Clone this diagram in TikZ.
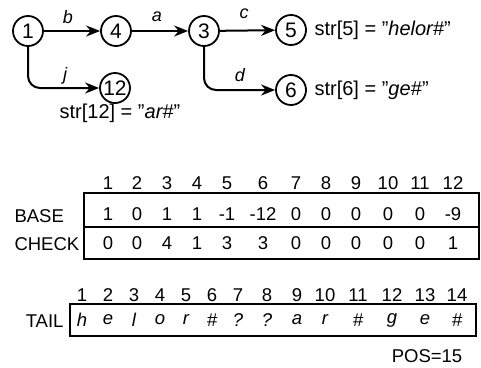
\documentclass[tikz,border=0pt]{standalone}
\usepackage{fontspec}
\setmainfont{Liberation Sans}
\usetikzlibrary{arrows.meta}
\newcommand{\dq}{\symbol{34}}
\begin{document}
\begin{tikzpicture}[x=1pt,y=-1pt,
  state/.style={circle,draw,line width=1.8pt,minimum size=30pt,inner sep=0pt,font=\fontsize{21}{23}\selectfont},
  edge/.style={line width=2pt,-{Stealth[length=14pt,width=11pt]},rounded corners=12pt},
  elabel/.style={font=\fontsize{18}{20}\selectfont\itshape},
  strlabel/.style={font=\fontsize{20}{22}\selectfont},
  tab/.style={font=\fontsize{18.5}{20}\selectfont},
  boxline/.style={line width=1.8pt}]
\useasboundingbox (0,0) rectangle (481,367);
% graph
\node[state] (n1) at (28,31) {1};
\node[state] (n4) at (116,31) {4};
\node[state] (n3) at (204,31) {3};
\node[state] (n5) at (291,30) {5};
\node[state] (n6) at (291,90) {6};
\node[state] (n12) at (115,88) {12};
\draw[edge] (n1) -- (n4);
\draw[edge] (n4) -- (n3);
\draw[edge] (n3) -- (n5);
\draw[edge] (n1.south) |- (n12.west);
\draw[edge] (n3.south) |- (n6.west);
\node[elabel] (lb) at (68,17) {b};
\node[elabel] (la) at (157,17) {a};
\node[elabel] (lc) at (244,14) {c};
\node[elabel] (ld) at (240,75) {d};
\node[elabel] (lj) at (65,76) {j};
\node[strlabel,anchor=west] (s5) at (311,30) {str[5] = \dq\textit{helor\#}\dq};
\node[strlabel,anchor=west] (s6) at (311,90) {str[6] = \dq\textit{ge\#}\dq};
\node[strlabel] (s12) at (120,113) {str[12] = \dq\textit{ar\#}\dq};
% BASE / CHECK table
\draw[boxline] (84,193) rectangle (479,259);
\draw[boxline] (84,227) -- (479,227);
\node[tab,anchor=west] (base) at (11,216) {BASE};
\node[tab,anchor=west] (check) at (11,244) {CHECK};
\foreach \x/\i/\b/\c in {108/1/1/0,137/2/0/0,167/3/1/4,197/4/1/1,227/5/-1/3,263/6/-12/3,296/7/0/0,326/8/0/0,356/9/0/0,388/10/0/0,420/11/0/0,453/12/-9/1}{
  \node[tab] (h\i) at (\x,183) {\i};
  \node[tab] (b\i) at (\x,214) {\b};
  \node[tab] (c\i) at (\x,243) {\c};
}
% TAIL
\draw[boxline] (70,304) rectangle (476,336);
\node[tab,anchor=east] (tail) at (67,321) {TAIL};
\foreach \x/\i/\ch in {82/1/h,108/2/e,134/3/l,160/4/o,186/5/r,212/6/\#,238/7/?,267/8/?,297/9/a,325/10/r,358/11/\#,392/12/g,425/13/e,457/14/\#}{
  \node[tab] (t\i) at (\x,295) {\i};
  \node[tab,font=\fontsize{18.5}{20}\selectfont\itshape] (l\i) at (\x,320) {\ch};
}
\node[tab,inner sep=1pt] (pos) at (427,356) {POS=15};
\end{tikzpicture}
\end{document}
